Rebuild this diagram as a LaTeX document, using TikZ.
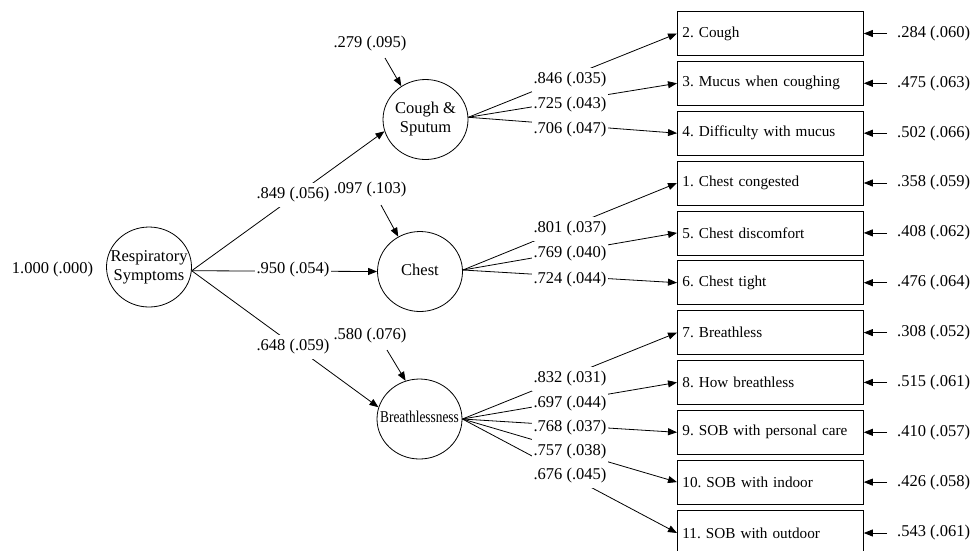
\documentclass[tikz,border=0pt]{standalone}
\usepackage{fontspec}
\setmainfont{Liberation Serif}
\usetikzlibrary{arrows.meta,shapes.geometric}
\newcommand{\latxt}[1]{\makebox[0pt]{\begin{tabular}{@{}c@{}}#1\end{tabular}}}
\begin{document}
\frenchspacing
\begin{tikzpicture}[x=1pt,y=-1pt,
  lat/.style={ellipse,draw,line width=0.8pt,minimum width=85pt,minimum height=80pt,inner sep=0pt,font=\fontsize{16.5}{19}\selectfont},
  obs/.style={rectangle,draw,line width=0.8pt,minimum width=186pt,minimum height=44pt,text width=176pt,inner xsep=5pt,align=left,font=\fontsize{15.2}{18}\selectfont,anchor=west},
  lab/.style={fill=white,inner xsep=2pt,inner ysep=5pt,font=\fontsize{16.5}{19}\selectfont},
  txt/.style={inner sep=0pt,font=\fontsize{16.5}{19}\selectfont},
  arr/.style={line width=0.8pt,-{Triangle[length=9pt,width=7pt]}},
  ln/.style={line width=0.8pt}
]
\useasboundingbox (0,0) rectangle (973,550);

% latent variables
\node[lat] (rs) at (149,267) {\latxt{Respiratory\\Symptoms}};
\node[lat] (cs) at (425.5,119.5) {\latxt{Cough \&\\Sputum}};
\node[lat] (ch) at (420,271.5) {\latxt{Chest}};
\node[lat] (br) at (419.5,419) {\latxt{\scalebox{0.81}[1]{Breathlessness}}};

% observed variables
\node[obs] (b1) at (677,33.5) {2. Cough};
\node[obs] (b2) at (677,83.3) {3. Mucus when coughing};
\node[obs] (b3) at (677,133.2) {4. Difficulty with mucus};
\node[obs] (b4) at (677,183) {1. Chest congested};
\node[obs] (b5) at (677,232.9) {5. Chest discomfort};
\node[obs] (b6) at (677,282.7) {6. Chest tight};
\node[obs] (b7) at (677,332.6) {7. Breathless};
\node[obs] (b8) at (677,382.4) {8. How breathless};
\node[obs] (b9) at (677,432.3) {9. SOB with personal care};
\node[obs] (b10) at (677,482.1) {10. SOB with indoor};
\node[obs,minimum height=46pt] (b11) at (677,533) {11. SOB with outdoor};

% residual labels of observed variables
\foreach \i/\y/\t in {1/33.5/.284 (.060),2/83.3/.475 (.063),3/133.2/.502 (.066),4/183/.358 (.059),5/232.9/.408 (.062),6/282.7/.476 (.064),7/332.6/.308 (.052),8/382.4/.515 (.061),9/432.3/.410 (.057),10/482.1/.426 (.058),11/533/.543 (.061)}{
  \node[txt,anchor=west] (e\i) at (897,\y) {\t};
  \draw[arr,shorten <=10pt] (e\i.west) -- (b\i.east);
}

% residual of latent factors
\node[txt] (ers) at (52.5,270) {1.000 (.000)};
\node[txt] (ecs) at (370,44) {.279 (.095)};
\node[txt] (ech) at (370,190) {.097 (.103)};
\node[txt] (ebr) at (370,336) {.580 (.076)};
\coordinate (ecs0) at (385,58);
\coordinate (ech0) at (381,205);
\coordinate (ebr0) at (387,350);
\draw[arr] (ecs0) -- (cs.126);
\draw[arr] (ech0) -- (ch.122);
\draw[arr] (ebr0) -- (br.110);

% second-order loadings
\draw[arr] (rs.-5) -- (cs.196);
\draw[arr] (rs.-5) -- (ch.180);
\draw[arr] (rs.-5) -- (br.164);
\node[lab] at (293,195) {.849 (.056)};
\node[lab] at (293,270) {.950 (.054)};
\node[lab] at (293,347) {.648 (.059)};

% first-order loadings
\foreach \b in {1,2,3}{\draw[arr] (cs.3) -- (b\b.west);}
\foreach \b in {4,5,6}{\draw[arr] (ch.2) -- (b\b.west);}
\foreach \b in {7,8,9,10,11}{\draw[arr] (br.east) -- (b\b.west);}

\node[lab] at (570,80) {.846 (.035)};
\node[lab] at (570,105) {.725 (.043)};
\node[lab] at (570,130) {.706 (.047)};
\node[lab] at (570,229) {.801 (.037)};
\node[lab] at (570,254) {.769 (.040)};
\node[lab] at (570,280) {.724 (.044)};
\node[lab] at (570,379) {.832 (.031)};
\node[lab] at (570,404) {.697 (.044)};
\node[lab] at (570,428) {.768 (.037)};
\node[lab] at (570,452) {.757 (.038)};
\node[lab] at (570,476) {.676 (.045)};
\end{tikzpicture}
\end{document}
